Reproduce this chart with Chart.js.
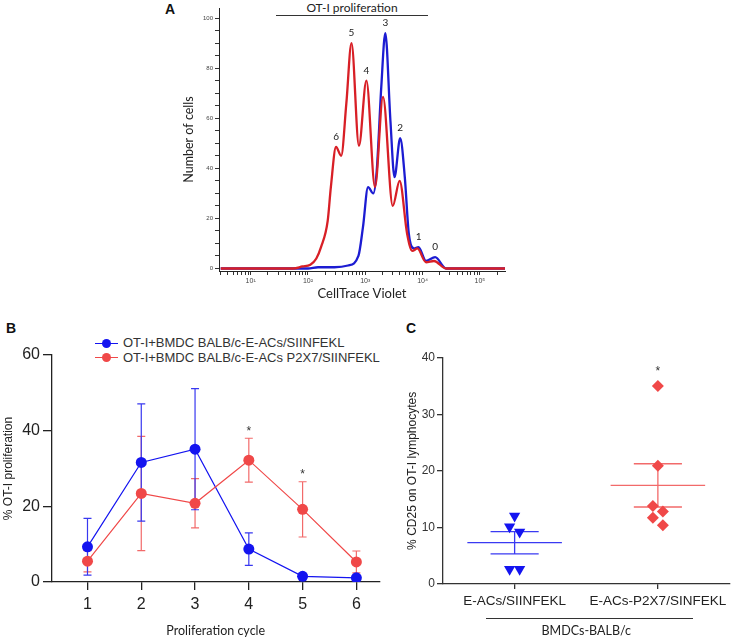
<!DOCTYPE html>
<html>
<head>
<meta charset="utf-8">
<script src="https://cdn.jsdelivr.net/npm/chart.js@4.4.0/dist/chart.umd.min.js"></script>
<style>
  body { margin: 0; background: #fff; width: 736px; height: 639px; position: relative; overflow: hidden;
         font-family: 'Liberation Sans', Arial, sans-serif; color: #222; }
  .box { position: absolute; }
  .letter { position: absolute; font: bold 14px 'Liberation Sans', Arial, sans-serif; color: #111; }
  .hdr { position: absolute; font: 12px Lato, sans-serif; color: #222; text-align: center; }
  .rule { position: absolute; height: 0; border-top: 1px solid #333; }
  #legB { position: absolute; left: 95px; top: 336px; font: 13px 'Liberation Sans', Arial, sans-serif; color: #333; line-height: 14.5px; }
  #legB .lk { display: inline-block; position: relative; width: 23px; height: 10px; margin-right: 5px; vertical-align: -1px; }
  #legB .lk::before { content: ''; position: absolute; left: 0; right: 0; top: 4.5px; border-top: 1.3px solid var(--c); }
  #legB .lk::after { content: ''; position: absolute; left: 7px; top: 0.5px; width: 9px; height: 9px; border-radius: 50%; background: var(--c); }
</style>
</head>
<body>

<div class="letter" style="left:165px;top:1px">A</div>
<div class="hdr" style="left:276px;top:0;width:152px">OT-I proliferation</div>
<div class="rule" style="left:276px;top:15px;width:152px"></div>
<div class="box" style="left:150px;top:0;width:370px;height:305px"><canvas id="cA"></canvas></div>

<div class="letter" style="left:6px;top:320px">B</div>
<div id="legB">
  <div><span class="lk" style="--c:#1414f0"></span>OT-I+BMDC BALB/c-E-ACs/SIINFEKL</div>
  <div><span class="lk" style="--c:#f04848"></span>OT-I+BMDC BALB/c-E-ACs P2X7/SIINFEKL</div>
</div>
<div class="box" style="left:0;top:320px;width:385px;height:319px"><canvas id="cB"></canvas></div>

<div class="letter" style="left:406px;top:320px">C</div>
<div class="box" style="left:385px;top:320px;width:351px;height:319px"><canvas id="cC"></canvas></div>
<div class="rule" style="left:486px;top:618px;width:207px"></div>

<script>
/* ---- panel A: CellTrace Violet histograms ---- */
const ctvRedX  = [3, 55, 80, 110, 140, 169, 221, 251, 309, 380, 468, 575, 776, 1047, 1480, 2040, 3020, 3980, 5370, 6610, 8130, 11500, 15800, 25700, 280000];
const ctvRedY  = [0, 0, 0.8, 1.5, 4, 8.5, 19, 32.5, 48.5, 45, 66, 90, 49, 75, 32.5, 68.5, 25, 35, 14, 7, 8, 2.5, 3, 0, 0];
const ctvBlueX = [3, 100, 150, 290, 500, 760, 912, 1120, 1380, 1585, 1905, 2240, 2750, 3240, 4070, 4900, 5750, 7080, 8510, 11500, 16600, 25700, 280000];
const ctvBlueY = [0, 0, 0.5, 0.5, 1.2, 5, 16.5, 32.5, 30, 39, 72.5, 94, 59, 36.5, 52, 36.5, 14, 8, 8.5, 3, 4.5, 0, 0];
// division peaks: label, curve, x on that curve
const peakText   = ['6', '5', '4', '3', '2', '1', '0'];
const peakSeries = ['red', 'red', 'red', 'blue', 'blue', 'blue', 'blue'];
const peakAt     = [309, 575, 1047, 2240, 4070, 8510, 16600];

/* ---- panel B: % proliferation per cycle (mean, SEM) ---- */
const cycles   = [1, 2, 3, 4, 5, 6];
const blueMean = [9.3, 31.6, 35.1, 8.7, 1.5, 1.1];
const blueSem  = [7.5, 15.5, 16.0, 4.3, 0.6, 0.3];
const redMean  = [5.5, 23.4, 20.8, 32.2, 19.2, 5.3];
const redSem   = [2.8, 15.1, 6.5, 5.8, 7.3, 2.9];
const sigB     = [false, false, false, true, true, false];

/* ---- panel C: % CD25 ---- */
const groupsC  = ['E-ACs/SIINFEKL', 'E-ACs-P2X7/SINFEKL'];
const cd25Blue = [12.0, 10.1, 9.2, 2.6, 2.6];
const cd25Red  = [35.0, 20.9, 13.8, 12.8, 11.7, 10.4];
const sigC     = [false, true];

const BLUE_A = '#1c1cd2', RED_A = '#d81f26';
const BLUE = '#1414f0', RED = '#f04848';
const ARIAL = "'Liberation Sans', Arial, sans-serif";
const SUP = { 0: '⁰', 1: '¹', 2: '²', 3: '³', 4: '⁴', 5: '⁵', 6: '⁶' };

const mean = (a) => a.reduce((s, v) => s + v, 0) / a.length;
const sem = (a) => {
    const m = mean(a);
    return Math.sqrt(a.reduce((s, v) => s + (v - m) ** 2, 0) / (a.length - 1) / a.length);
};

// spread near-equal values sideways so the symbols don't sit on top of each other
function jitter(vals, centre) {
    const order = vals.map((v, i) => i).sort((a, b) => vals[b] - vals[a]);
    const xs = vals.map(() => centre);
    for (let k = 0; k < order.length - 1; k++) {
        const a = order[k], b = order[k + 1];
        if (vals[a] - vals[b] < 1.5) { xs[a] = centre - 0.035; xs[b] = centre + 0.035; k++; }
    }
    return xs;
}

Chart.defaults.animation = false;
Chart.defaults.plugins.legend.display = false;
Chart.defaults.plugins.tooltip.enabled = false;
Chart.defaults.responsive = true;
Chart.defaults.maintainAspectRatio = false;

/* ================= A ================= */
const peakLabels = {
    id: 'peakLabels',
    afterDatasetsDraw(chart) {
        const { ctx, scales: { x, y } } = chart;
        ctx.save();
        ctx.font = '10px Lato, sans-serif';
        ctx.fillStyle = '#222';
        ctx.textAlign = 'center';
        ctx.textBaseline = 'bottom';
        peakText.forEach((t, i) => {
            const xs = peakSeries[i] === 'red' ? ctvRedX : ctvBlueX;
            const ys = peakSeries[i] === 'red' ? ctvRedY : ctvBlueY;
            const v = ys[xs.indexOf(peakAt[i])];
            ctx.fillText(t, x.getPixelForValue(peakAt[i]), y.getPixelForValue(v) - 5);
        });
        ctx.restore();
    },
};

new Chart(document.getElementById('cA'), {
    type: 'line',
    data: {
        datasets: [
            { data: ctvRedX.map((x, i) => ({ x, y: ctvRedY[i] })), borderColor: RED_A, borderWidth: 2.3,
              pointRadius: 0, cubicInterpolationMode: 'monotone' },
            { data: ctvBlueX.map((x, i) => ({ x, y: ctvBlueY[i] })), borderColor: BLUE_A, borderWidth: 2.3,
              pointRadius: 0, cubicInterpolationMode: 'monotone' },
        ],
    },
    options: {
        layout: { padding: { top: 8, right: 15, left: 0, bottom: 0 } },
        scales: {
            x: {
                type: 'logarithmic', min: 2.8, max: 275000,
                afterBuildTicks: (s) => {
                    const t = [];
                    for (let e = 0; e <= 5; e++) for (let m = 1; m <= 9; m++) {
                        const v = m * 10 ** e;
                        if (v >= s.min && v <= s.max) t.push({ value: v });
                    }
                    s.ticks = t;
                },
                afterFit: (s) => { s.height = 34; },
                border: { color: '#222', width: 1 },
                grid: { drawOnChartArea: false, tickLength: 4, color: '#333' },
                ticks: {
                    autoSkip: false, maxRotation: 0, padding: 2, color: '#444',
                    font: { family: ARIAL, size: 7 },
                    callback: (v) => {
                        const e = Math.log10(v);
                        return Math.abs(e - Math.round(e)) < 1e-9 ? '10' + SUP[Math.round(e)] : '';
                    },
                },
                title: { display: true, text: 'CellTrace Violet', color: '#222',
                         font: { family: 'Lato', size: 13 }, padding: { top: 0, bottom: 3 } },
            },
            y: {
                min: -1, max: 104,
                afterBuildTicks: (s) => { s.ticks = []; for (let v = 0; v <= 100; v += 5) s.ticks.push({ value: v }); },
                afterFit: (s) => { s.width = 69; },
                border: { color: '#222', width: 1 },
                grid: { drawOnChartArea: false, tickLength: 4, color: '#333' },
                ticks: { padding: 2, color: '#444', font: { family: ARIAL, size: 6 },
                         callback: (v) => (v % 20 === 0 ? String(v) : '') },
                title: { display: true, text: 'Number of cells', color: '#222',
                         font: { family: 'Lato', size: 12.5 }, padding: { top: 31, bottom: 0 } },
            },
        },
    },
    plugins: [peakLabels],
});

/* ================= B ================= */
const errorBars = {
    id: 'errorBars',
    beforeDatasetsDraw(chart) {
        const { ctx, scales: { x, y } } = chart;
        chart.data.datasets.forEach((ds) => {
            ctx.save();
            ctx.strokeStyle = ds.errColor;
            ctx.lineWidth = 1.2;
            ds.data.forEach((p, i) => {
                const px = x.getPixelForValue(p.x);
                const top = y.getPixelForValue(p.y + ds.sem[i]);
                const bot = y.getPixelForValue(Math.max(0, p.y - ds.sem[i]));
                ctx.beginPath();
                ctx.moveTo(px, top); ctx.lineTo(px, bot);
                ctx.moveTo(px - 4, top); ctx.lineTo(px + 4, top);
                ctx.moveTo(px - 4, bot); ctx.lineTo(px + 4, bot);
                ctx.stroke();
            });
            ctx.restore();
        });
    },
    afterDatasetsDraw(chart) {
        const { ctx, scales: { x, y } } = chart;
        ctx.save();
        ctx.font = '12px ' + ARIAL;
        ctx.fillStyle = '#333';
        ctx.textAlign = 'center';
        ctx.textBaseline = 'middle';
        sigB.forEach((s, i) => {
            if (!s) return;
            ctx.fillText('*', x.getPixelForValue(cycles[i]), y.getPixelForValue(redMean[i] + redSem[i]) - 7);
        });
        ctx.restore();
    },
};

new Chart(document.getElementById('cB'), {
    type: 'line',
    data: {
        datasets: [
            { data: cycles.map((x, i) => ({ x, y: redMean[i] })), sem: redSem, errColor: '#f26a6a',
              borderColor: RED, backgroundColor: RED, borderWidth: 1.2,
              pointRadius: 5.5, pointHoverRadius: 5.5, pointBorderWidth: 0 },
            { data: cycles.map((x, i) => ({ x, y: blueMean[i] })), sem: blueSem, errColor: '#3838f0',
              borderColor: BLUE, backgroundColor: BLUE, borderWidth: 1.2,
              pointRadius: 5.5, pointHoverRadius: 5.5, pointBorderWidth: 0 },
        ],
    },
    options: {
        layout: { padding: { top: 35, right: 5, left: 0, bottom: 0 } },
        scales: {
            x: {
                type: 'linear', min: 0.34, max: 6.43,
                afterBuildTicks: (s) => { s.ticks = cycles.map((v) => ({ value: v })); },
                afterFit: (s) => { s.height = 57; },
                border: { color: '#222', width: 1.3 },
                grid: { drawOnChartArea: false, tickLength: 8, color: '#222', lineWidth: 1.3 },
                ticks: { padding: 5, color: '#222', font: { family: ARIAL, size: 16 } },
                title: { display: true, text: 'Proliferation cycle', color: '#222',
                         font: { family: 'Lato', size: 12.5 }, padding: { top: 0, bottom: 1 } },
            },
            y: {
                min: 0, max: 60,
                afterBuildTicks: (s) => { s.ticks = [0, 20, 40, 60].map((v) => ({ value: v })); },
                afterFit: (s) => { s.width = 52; },
                border: { color: '#222', width: 1.3 },
                grid: { drawOnChartArea: false, tickLength: 9, color: '#222', lineWidth: 1.3 },
                ticks: { padding: 3, color: '#222', font: { family: ARIAL, size: 16 } },
                title: { display: true, text: '% OT-I proliferation', color: '#222',
                         font: { family: ARIAL, size: 12 }, padding: { top: 1, bottom: 0 } },
            },
        },
    },
    plugins: [errorBars],
});

/* ================= C ================= */
const groupStats = {
    id: 'groupStats',
    beforeDatasetsDraw(chart) {
        const { ctx, scales: { x, y } } = chart;
        chart.data.datasets.forEach((ds, g) => {
            const m = mean(ds.values), e = sem(ds.values);
            const cx = x.getPixelForValue(g);
            const half = x.getPixelForValue(g + 0.33) - cx;
            const capHalf = x.getPixelForValue(g + 0.168) - cx;
            ctx.save();
            ctx.strokeStyle = ds.lineColor;
            ctx.lineWidth = 1.3;
            ctx.beginPath();
            ctx.moveTo(cx - half, y.getPixelForValue(m)); ctx.lineTo(cx + half, y.getPixelForValue(m));
            ctx.moveTo(cx - capHalf, y.getPixelForValue(m + e)); ctx.lineTo(cx + capHalf, y.getPixelForValue(m + e));
            ctx.moveTo(cx - capHalf, y.getPixelForValue(m - e)); ctx.lineTo(cx + capHalf, y.getPixelForValue(m - e));
            ctx.moveTo(cx, y.getPixelForValue(m + e)); ctx.lineTo(cx, y.getPixelForValue(m - e));
            ctx.stroke();
            ctx.restore();
        });
    },
    afterDatasetsDraw(chart) {
        const { ctx, scales: { x, y } } = chart;
        ctx.save();
        ctx.font = '12px ' + ARIAL;
        ctx.fillStyle = '#333';
        ctx.textAlign = 'center';
        ctx.textBaseline = 'middle';
        chart.data.datasets.forEach((ds, g) => {
            if (!sigC[g]) return;
            ctx.fillText('*', x.getPixelForValue(g), y.getPixelForValue(Math.max(...ds.values)) - 14);
        });
        ctx.restore();
    },
};

const blueX = jitter(cd25Blue, 0), redX = jitter(cd25Red, 1);
new Chart(document.getElementById('cC'), {
    type: 'scatter',
    data: {
        datasets: [
            { values: cd25Blue, lineColor: '#3a3af2', data: cd25Blue.map((v, i) => ({ x: blueX[i], y: v })),
              pointStyle: 'triangle', rotation: 180, pointRadius: 6.5, pointHoverRadius: 6.5,
              backgroundColor: BLUE, borderColor: BLUE, borderWidth: 0 },
            { values: cd25Red, lineColor: '#f26a6a', data: cd25Red.map((v, i) => ({ x: redX[i], y: v })),
              pointStyle: 'rectRot', pointRadius: 6, pointHoverRadius: 6,
              backgroundColor: RED, borderColor: RED, borderWidth: 0 },
        ],
    },
    options: {
        layout: { padding: { top: 37.7, right: 1, left: 0, bottom: 0 } },
        scales: {
            x: {
                type: 'linear', min: -0.5, max: 1.5,
                afterBuildTicks: (s) => { s.ticks = groupsC.map((c, i) => ({ value: i })); },
                afterFit: (s) => { s.height = 55; },
                border: { color: '#333', width: 1.3 },
                grid: { drawOnChartArea: false, tickLength: 5, color: '#333', lineWidth: 1.3 },
                ticks: { padding: 4, color: '#222', font: { family: ARIAL, size: 13.5 },
                         callback: (v) => groupsC[v] },
                title: { display: true, text: 'BMDCs-BALB/c', color: '#222',
                         font: { family: 'Lato', size: 12.5 }, padding: { top: 0, bottom: 1 } },
            },
            y: {
                min: 0, max: 40,
                afterBuildTicks: (s) => { s.ticks = [0, 10, 20, 30, 40].map((v) => ({ value: v })); },
                afterFit: (s) => { s.width = 58; },
                border: { color: '#333', width: 1.3 },
                grid: { drawOnChartArea: false, tickLength: 6, color: '#333', lineWidth: 1.3 },
                ticks: { padding: 2, color: '#333', font: { family: ARIAL, size: 12 } },
                title: { display: true, text: '% CD25 on OT-I lymphocytes', color: '#222',
                         font: { family: ARIAL, size: 12 }, padding: { top: 20, bottom: 0 } },
            },
        },
    },
    plugins: [groupStats],
});
</script>
</body>
</html>
